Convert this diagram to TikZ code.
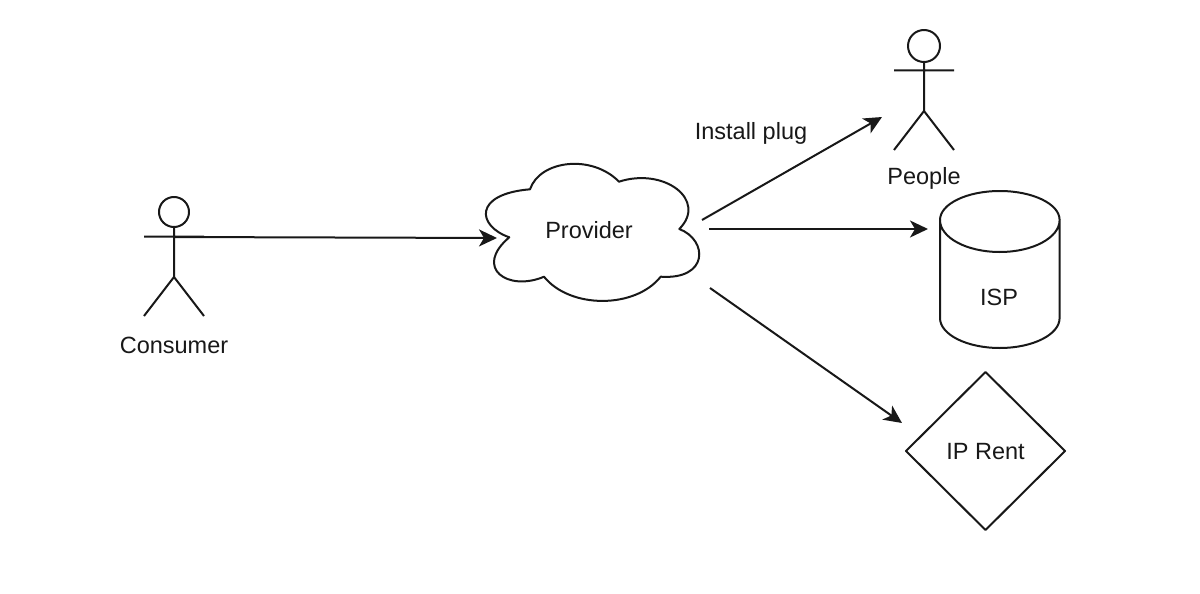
\documentclass[tikz,border=0pt]{standalone}
\usepackage{fontspec}
\setmainfont{Liberation Sans}
\usetikzlibrary{arrows.meta,shapes.geometric}
\definecolor{ink}{HTML}{181818}
\tikzset{
  shapeline/.style={draw=ink,line width=2pt,line join=round},
  conn/.style={draw=ink,line width=2pt,-{Stealth[length=18pt,width=17pt,inset=5pt]}},
  lab/.style={text=ink,inner sep=0pt,font=\fontsize{23.5}{28}\selectfont}
}
\newcommand{\stickman}[3]{%
  \draw[shapeline] (#1,#2) circle (#3);
  \draw[shapeline] (#1,#2+#3) -- (#1,#2+65) (#1-30,#2+24.5) -- (#1+30,#2+24.5)
    (#1-30,#2+104) -- (#1,#2+65) -- (#1+30,#2+104);
}
\begin{document}
\begin{tikzpicture}[x=1pt,y=-1pt]
\useasboundingbox (0,0) rectangle (1200,594);
% Consumer
\stickman{174}{212}{15}
\node[lab] (consumer) at (174,345) {Consumer};
\coordinate (consumerArm) at (174,237);
% People
\stickman{924}{46}{16}
\node[lab] (people) at (924,178) {People};
\coordinate (peopleIn) at (882,117);
% Provider cloud
\draw[shapeline] (509.3,237.3)
  .. controls (477,226) and (473,194) .. (530,189.3)
  .. controls (540,160) and (592,154) .. (619,181.7)
  .. controls (664,167) and (708,200) .. (679.3,229)
  .. controls (708,240) and (709,280) .. (660.7,276.7)
  .. controls (635,309) and (570,309) .. (544,276.7)
  .. controls (508,292) and (473,268) .. cycle;
\node[lab] (provider) at (589,230) {Provider};
\coordinate (provIn) at (497,238);
\coordinate (provA) at (702,220);
\coordinate (provB) at (709,229);
\coordinate (provC) at (710,288);
% ISP cylinder
\draw[shapeline] (940,220) arc[start angle=180,end angle=0,x radius=59.8,y radius=32]
  -- (1059.6,318) arc[start angle=0,end angle=180,x radius=59.8,y radius=30] -- cycle;
\draw[shapeline] (940,220) arc[start angle=180,end angle=360,x radius=59.8,y radius=29];
\node[lab] (isp) at (999,297) {ISP};
\coordinate (ispIn) at (928,229);
% IP Rent
\draw[shapeline] (985.5,372) -- (1065,451) -- (985.5,530) -- (906,451) -- cycle;
\node[lab] (rent) at (985.5,452) {IP Rent};
\coordinate (rentIn) at (902,423);
% Connectors
\draw[conn] (consumerArm) -- (provIn);
\draw[conn] (provA) -- (peopleIn);
\draw[conn] (provB) -- (ispIn);
\draw[conn] (provC) -- (rentIn);
\node[lab] (plug) at (751,133) {Install plug};
\end{tikzpicture}
\end{document}
